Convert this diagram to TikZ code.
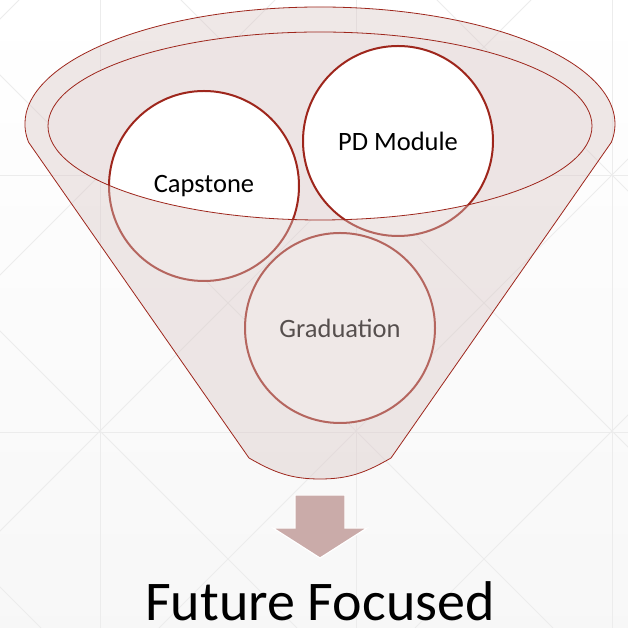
\documentclass[tikz,border=0pt]{standalone}
\usepackage{fontspec}
\setmainfont{Carlito}
\usetikzlibrary{positioning}
\definecolor{funnelred}{RGB}{158,38,28}
\definecolor{funnelfill}{RGB}{216,198,196}
\definecolor{mouthfill}{RGB}{237,228,228}
\definecolor{arrowfill}{RGB}{202,171,169}
\definecolor{gridline}{RGB}{236,236,236}
\tikzset{
  stage/.style={
    circle,
    draw=funnelred,
    line width=2pt,
    fill=white,
    minimum size=190pt,
    inner sep=0pt,
    font=\fontsize{26.5}{30}\selectfont
  },
  rim/.style={draw=funnelred, line width=0.8pt},
  faint/.style={draw=gridline, line width=0.8pt},
  blockarrow/.style={fill=arrowfill, draw=white, line width=1.2pt},
  title/.style={font=\fontsize{56}{60}\selectfont, inner sep=0pt}
}

\begin{document}
\begin{tikzpicture}[x=1pt, y=1pt]

% --- Background
\useasboundingbox (0,0) rectangle (628,628);
\shade[top color=white, bottom color=black!3] (0,0) rectangle (628,628);
\begin{scope}
  \clip (0,0) rectangle (628,628);
  \foreach \gx in {100,356,612} \draw[faint] (\gx,0) -- (\gx,628);
  \foreach \gy in {196,453} \draw[faint] (0,\gy) -- (628,\gy);
  \foreach \d in {-609,-353,-97,159,415,671} \draw[faint] (\d,0) -- (\d+628,628);
  \foreach \s in {41,297,553,809,1065} \draw[faint] (\s,0) -- (\s-628,628);
\end{scope}

% --- Mouth of the funnel
\fill[mouthfill] (320,502) ellipse[x radius=272, y radius=94];

% --- Stages
\node[stage] (capstone) at (204,442) {Capstone};
\node[stage] (pdmodule) at (398,487) {PD Module};
\node[stage] (graduation) at (340,300) {Graduation};

% --- Front of the funnel (over the stages)
\fill[funnelfill, fill opacity=0.4, even odd rule]
  (28.6,485.7) arc[start angle=189, end angle=-9, x radius=295, y radius=117]
  -- (391,170) to[out=210, in=0] (320,149) to[out=180, in=-30] (249,170) -- cycle
  (320,502) ellipse[x radius=272, y radius=94];
\draw[rim]
  (28.6,485.7) arc[start angle=189, end angle=-9, x radius=295, y radius=117]
  -- (391,170) to[out=210, in=0] (320,149) to[out=180, in=-30] (249,170) -- cycle;
\draw[rim] (320,502) ellipse[x radius=272, y radius=94];

% --- Output
\coordinate (tip) at (320,70);
\fill[blockarrow] (295,133) -- (345,133) -- (345,100) -- (367,100) -- (tip)
  -- (273,100) -- (295,100) -- cycle;
\node[title, anchor=base] (future) at (320,7) {Future Focused};

\end{tikzpicture}
\end{document}
